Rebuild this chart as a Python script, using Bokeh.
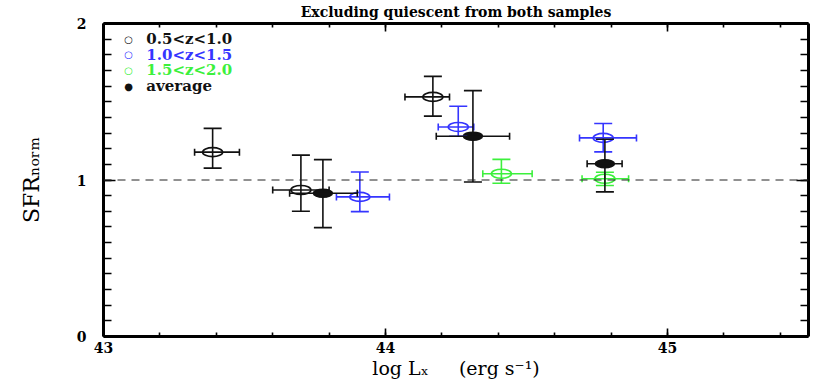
from bokeh.plotting import figure
from bokeh.models import (ColumnDataSource, Range1d, LinearAxis, SingleIntervalTicker,
                          Whisker, TeeHead, Span, Label, CustomLabelingPolicy)
from bokeh.embed import file_html
from bokeh.resources import INLINE

# ---------------- data ----------------
title_text = "Excluding quiescent from both samples"
x_label = "log L\u2093\u00a0\u00a0\u00a0\u00a0\u00a0(erg s\u207b\u00b9)"
y_label = "SFR\u2099\u2092\u1d63\u2098"
series_names = ["0.5<z<1.0", "1.0<z<1.5", "1.5<z<2.0", "average"]

lowz_x = [43.387, 43.700, 44.168]
lowz_y = [1.178, 0.936, 1.531]
lowz_xlo = [43.323, 43.600, 44.069]
lowz_xhi = [43.482, 43.800, 44.227]
lowz_ylo = [1.076, 0.800, 1.408]
lowz_yhi = [1.330, 1.159, 1.662]

midz_x = [43.909, 44.258, 44.772]
midz_y = [0.892, 1.339, 1.269]
midz_xlo = [43.826, 44.187, 44.688]
midz_xhi = [44.014, 44.313, 44.890]
midz_ylo = [0.798, 1.280, 1.180]
midz_yhi = [1.051, 1.471, 1.361]

highz_x = [44.411, 44.778]
highz_y = [1.040, 1.008]
highz_xlo = [44.345, 44.697]
highz_xhi = [44.520, 44.862]
highz_ylo = [0.979, 0.965]
highz_yhi = [1.132, 1.050]

avg_x = [43.778, 44.310, 44.778]
avg_y = [0.915, 1.280, 1.104]
avg_xlo = [43.660, 44.180, 44.715]
avg_xhi = [43.900, 44.440, 44.839]
avg_ylo = [0.696, 0.987, 0.924]
avg_yhi = [1.130, 1.571, 1.260]

reference_level = 1.0

BLACK = "#111111"
BLUE = "#3535ff"
GREEN = "#3cf03c"
SERIF = "DejaVu Serif"

# ---------------- figure ----------------
p = figure(width=830, height=382, x_range=Range1d(43, 45.5), y_range=Range1d(0, 2),
           output_backend="svg", toolbar_location=None,
           min_border_left=103, min_border_right=22, min_border_top=22, min_border_bottom=46)
p.xgrid.visible = False
p.ygrid.visible = False
p.outline_line_color = None
p.background_fill_color = "white"
p.border_fill_color = "white"

no_labels = CustomLabelingPolicy(code="return new Set()")


def style_axis(ax, interval, minor, maj_in, min_in, show_labels, standoff):
    ax.ticker = SingleIntervalTicker(interval=interval, num_minor_ticks=minor)
    ax.major_tick_in = maj_in
    ax.major_tick_out = 0
    ax.minor_tick_in = min_in
    ax.minor_tick_out = 0
    ax.axis_line_width = 3
    ax.axis_line_color = "black"
    ax.major_tick_line_width = 1.6
    ax.minor_tick_line_width = 1.6
    ax.major_tick_line_color = "black"
    ax.minor_tick_line_color = "black"
    ax.major_label_text_font = SERIF
    ax.major_label_text_font_style = "bold"
    ax.major_label_text_color = "black"
    ax.axis_label_text_font = SERIF
    ax.axis_label_text_color = "black"
    if show_labels:
        ax.major_label_text_font_size = "14px"
        ax.major_label_standoff = standoff
    else:
        ax.major_label_text_font_size = "1px"
        ax.major_label_standoff = 0
        ax.major_label_policy = no_labels


xax = p.xaxis[0]
style_axis(xax, 1, 5, 8, 4, True, 5)
xax.axis_label = x_label
xax.axis_label_text_font_size = "19px"
xax.axis_label_text_font_style = "normal"
xax.axis_label_standoff = 1

yax = p.yaxis[0]
style_axis(yax, 1, 10, 12, 8, True, 17)
yax.axis_label = y_label
yax.axis_label_text_font_size = "22px"
yax.axis_label_text_font_style = "normal"
yax.axis_label_standoff = 30

top_ax = LinearAxis()
style_axis(top_ax, 1, 5, 8, 4, False, 0)
top_ax.axis_label = title_text
top_ax.axis_label_text_font_size = "14px"
top_ax.axis_label_text_font_style = "bold"
top_ax.axis_label_standoff = 0
p.add_layout(top_ax, "above")

right_ax = LinearAxis()
style_axis(right_ax, 1, 10, 12, 8, False, 0)
p.add_layout(right_ax, "right")

p.add_layout(Span(location=reference_level, dimension="width", line_color="#222222",
                  line_width=1, line_dash="8 6"))


def add_series(xs, ys, xlo, xhi, ylo, yhi, color, filled, w, h):
    src = ColumnDataSource(dict(x=xs, y=ys, xlo=xlo, xhi=xhi, ylo=ylo, yhi=yhi))
    wv = Whisker(source=src, base="x", lower="ylo", upper="yhi", dimension="height",
                 line_color=color, line_width=1.6,
                 lower_head=TeeHead(size=18, line_color=color, line_width=1.6),
                 upper_head=TeeHead(size=18, line_color=color, line_width=1.6),
                 level="glyph")
    wh = Whisker(source=src, base="y", lower="xlo", upper="xhi", dimension="width",
                 line_color=color, line_width=1.6,
                 lower_head=TeeHead(size=7, line_color=color, line_width=1.6),
                 upper_head=TeeHead(size=7, line_color=color, line_width=1.6),
                 level="glyph")
    p.add_layout(wv)
    p.add_layout(wh)
    p.ellipse(x="x", y="y", width=w, height=h, width_units="screen", height_units="screen",
              source=src, fill_color=color if filled else None, line_color=color,
              line_width=1.6)


add_series(lowz_x, lowz_y, lowz_xlo, lowz_xhi, lowz_ylo, lowz_yhi, BLACK, False, 20, 9)
add_series(midz_x, midz_y, midz_xlo, midz_xhi, midz_ylo, midz_yhi, BLUE, False, 20, 9)
add_series(highz_x, highz_y, highz_xlo, highz_xhi, highz_ylo, highz_yhi, GREEN, False, 20, 9)
add_series(avg_x, avg_y, avg_xlo, avg_xhi, avg_ylo, avg_yhi, BLACK, True, 19, 8)

# ---------------- legend (coloured text rows) ----------------
legend_colors = [BLACK, BLUE, GREEN, BLACK]
legend_marks = ["\u25cb", "\u25cb", "\u25cb", "\u25cf"]
legend_rows = [1.9, 1.8, 1.7, 1.6]
for name, col, mk, yy in zip(series_names, legend_colors, legend_marks, legend_rows):
    p.add_layout(Label(x=43.089, y=yy, text=mk, text_font="DejaVu Sans", text_font_size="10px",
                       text_align="center", text_baseline="middle", text_color=col))
    p.add_layout(Label(x=43.152, y=yy, text=name, text_font=SERIF, text_font_size="15px",
                       text_font_style="bold", text_align="left", text_baseline="middle",
                       text_color=col))

open("out.html", "w").write(file_html(p, INLINE))
